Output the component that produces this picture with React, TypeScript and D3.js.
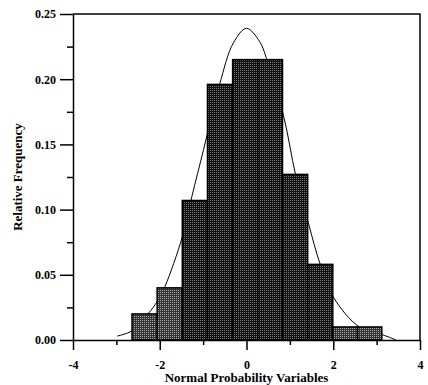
import React, { useRef, useEffect } from "react";
import * as d3 from "d3";

// histogram bins (edges) and relative frequencies
const binEdges = [-2.64, -2.06, -1.48, -0.9, -0.32, 0.26, 0.83, 1.41, 1.99, 2.56, 3.12];
const relFreq = [0.02, 0.04, 0.107, 0.196, 0.215, 0.215, 0.127, 0.058, 0.01, 0.01];

// fitted normal curve
const curveX = [-2.98, -2.64, -2.27, -2.05, -1.88, -1.48, -1.26, -0.99, -0.62, -0.3, 0.0, 0.3, 0.46, 0.86, 1.13, 1.44, 1.69, 2.0, 2.6, 3.14, 3.45];
const curveY = [0.003, 0.007, 0.02, 0.03, 0.041, 0.079, 0.11, 0.146, 0.196, 0.228, 0.239, 0.229, 0.216, 0.171, 0.127, 0.088, 0.059, 0.033, 0.01, 0.004, 0.0];

const xMajor = [-4, -2, 0, 2, 4];
const xMinor = [-3, -1, 1, 3];
const yMajor = [0, 0.05, 0.1, 0.15, 0.2, 0.25];
const yMinor = [0.025, 0.075, 0.125, 0.175, 0.225];

const W = 428;
const H = 385;
const FONT = "'Liberation Serif', 'Times New Roman', serif";

export default function App() {
  const svgRef = useRef<SVGSVGElement>(null);

  useEffect(() => {
    const svg = d3.select(svgRef.current);
    svg.selectAll("*").remove();

    const x = d3.scaleLinear().domain([-4, 4]).range([73, 420]);
    const y = d3.scaleLinear().domain([0, 0.25]).range([340, 14]);

    // halftone-like fills
    const defs = svg.append("defs");
    const mkPat = (id: string, bg: string, dot: string) => {
      const p = defs
        .append("pattern")
        .attr("id", id)
        .attr("width", 2)
        .attr("height", 2)
        .attr("patternUnits", "userSpaceOnUse");
      p.append("rect").attr("width", 2).attr("height", 2).attr("fill", bg);
      p.append("rect").attr("width", 1).attr("height", 1).attr("fill", dot);
    };
    mkPat("darkDots", "#111", "#7a7a7a");
    mkPat("lightDots", "#333", "#a8a8a8");

    // normal curve (drawn behind the bars)
    const pts = curveX.map((d, i) => [d, curveY[i]] as [number, number]);
    svg
      .append("path")
      .datum(pts)
      .attr(
        "d",
        d3
          .line<[number, number]>()
          .x((d) => x(d[0]))
          .y((d) => y(d[1]))
          .curve(d3.curveCatmullRom.alpha(0.5))
      )
      .attr("fill", "none")
      .attr("stroke", "#000")
      .attr("stroke-width", 1);

    // bars
    svg
      .append("g")
      .selectAll("rect")
      .data(relFreq)
      .join("rect")
      .attr("x", (d, i) => x(binEdges[i]))
      .attr("y", (d) => y(d))
      .attr("width", (d, i) => x(binEdges[i + 1]) - x(binEdges[i]))
      .attr("height", (d) => y(0) - y(d))
      .attr("fill", (d) => (d < 0.05 ? "url(#lightDots)" : "url(#darkDots)"))
      .attr("stroke", "#000")
      .attr("stroke-width", 1.5);

    // frame
    svg
      .append("path")
      .attr("d", `M${x(-4)},${y(0.25)}H${x(4)}V${y(0)}`)
      .attr("fill", "none")
      .attr("stroke", "#000")
      .attr("stroke-width", 1.5);

    const styleAxis = (g: any) => {
      g.attr("font-family", FONT).attr("font-size", 12).attr("font-weight", "bold");
      g.select(".domain").attr("stroke-width", 1.5);
      g.selectAll("line").attr("stroke-width", 1.5);
      g.selectAll("text").attr("fill", "#000").style("font-family", FONT);
    };

    // x axis
    svg
      .append("g")
      .attr("transform", `translate(0,${y(0)})`)
      .call(d3.axisBottom(x).tickValues(xMinor).tickSize(5).tickFormat(() => "").tickSizeOuter(0))
      .call((g) => g.select(".domain").remove())
      .call(styleAxis);
    svg
      .append("g")
      .attr("transform", `translate(0,${y(0)})`)
      .call(d3.axisBottom(x).tickValues(xMajor).tickSize(10).tickPadding(10).tickSizeOuter(0).tickFormat((d) => String(d)))
      .call(styleAxis);

    // y axis
    svg
      .append("g")
      .attr("transform", `translate(${x(-4)},0)`)
      .call(d3.axisLeft(y).tickValues(yMinor).tickSize(6).tickFormat(() => "").tickSizeOuter(0))
      .call((g) => g.select(".domain").remove())
      .call(styleAxis);
    svg
      .append("g")
      .attr("transform", `translate(${x(-4)},0)`)
      .call(d3.axisLeft(y).tickValues(yMajor).tickSize(13).tickPadding(4).tickSizeOuter(0).tickFormat(d3.format(".2f")))
      .call(styleAxis);

    // titles
    svg
      .append("text")
      .attr("x", x(0))
      .attr("y", 382)
      .attr("text-anchor", "middle")
      .attr("font-family", FONT)
      .attr("font-weight", "bold")
      .attr("font-size", 13)
      .text("Normal Probability Variables");

    svg
      .append("text")
      .attr("transform", `translate(22,${(y(0) + y(0.25)) / 2}) rotate(-90)`)
      .attr("text-anchor", "middle")
      .attr("font-family", FONT)
      .attr("font-weight", "bold")
      .attr("font-size", 13)
      .text("Relative Frequency");
  }, []);

  return (
    <svg
      ref={svgRef}
      width={W}
      height={H}
      style={{ position: "absolute", left: 0, top: 0, background: "#fff" }}
    />
  );
}
